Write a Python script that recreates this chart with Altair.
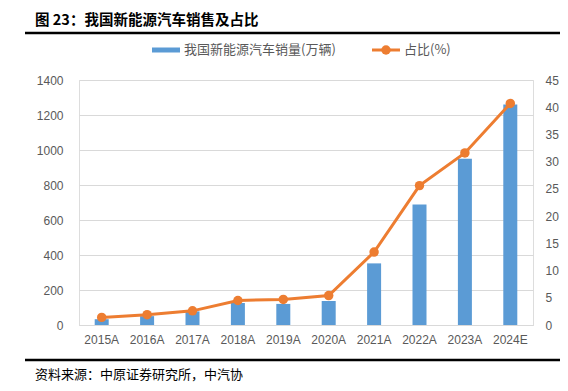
import altair as alt
import pandas as pd

years = ["2015A", "2016A", "2017A", "2018A", "2019A", "2020A", "2021A", "2022A", "2023A", "2024E"]
sales = [33.1, 50.7, 77.7, 125.6, 120.6, 136.7, 352.1, 688.7, 949.5, 1260]
share = [1.4, 1.9, 2.6, 4.5, 4.7, 5.4, 13.4, 25.6, 31.6, 40.7]

title_text = "图 23：我国新能源汽车销售及占比"
legend_bar = "我国新能源汽车销量(万辆)"
legend_line = "占比(%)"
source_text = "资料来源：中原证券研究所，中汽协"

df = pd.DataFrame({"year": years, "sales": sales, "share": share})

CJK = "Noto Sans CJK SC"
BLUE = "#5B9BD5"
ORANGE = "#ED7D31"
GRAY = "#595959"

x_enc = alt.X("year:N", sort=years, title=None,
              scale=alt.Scale(paddingInner=0.0, paddingOuter=0.0),
              axis=alt.Axis(labelAngle=0, labelColor=GRAY, labelFontSize=12, labelFont="Liberation Sans",
                            ticks=False, domainColor="#D9D9D9", labelPadding=9))

bars = alt.Chart(df).mark_bar(color=BLUE, size=14).encode(
    x=x_enc,
    y=alt.Y("sales:Q", title=None, scale=alt.Scale(domain=[0, 1400]),
            axis=alt.Axis(values=[0, 200, 400, 600, 800, 1000, 1200, 1400], format="d", labelColor=GRAY,
                          labelFontSize=12, labelFont="Liberation Sans", ticks=False, domain=False,
                          gridColor="#D9D9D9", labelPadding=16)),
)

line = alt.Chart(df).mark_line(color=ORANGE, strokeWidth=3,
                               point=alt.OverlayMarkDef(color=ORANGE, size=90, filled=True, opacity=1)).encode(
    x=alt.X("year:N", sort=years),
    y=alt.Y("share:Q", title=None, scale=alt.Scale(domain=[0, 45]),
            axis=alt.Axis(orient="right", values=[0, 5, 10, 15, 20, 25, 30, 35, 40, 45], labelColor=GRAY,
                          labelFontSize=12, labelFont="Liberation Sans", ticks=False, domain=False,
                          grid=False, labelPadding=12)),
)

main = alt.layer(bars, line).resolve_scale(y="independent")

# decorations
title = alt.Chart().mark_text(align="left", baseline="middle", font=CJK, fontSize=14.5,
                              fontWeight="bold", color="#000000").encode(
    x=alt.value(-44), y=alt.value(-59), text=alt.value(title_text))
title_rule = alt.Chart().mark_rule(color="#000000", strokeWidth=2.5).encode(
    x=alt.value(-54), x2=alt.value(481), y=alt.value(-47))
src_rule = alt.Chart().mark_rule(color="#000000", strokeWidth=2.5).encode(
    x=alt.value(-54), x2=alt.value(481), y=alt.value(280))
src = alt.Chart().mark_text(align="left", baseline="middle", font=CJK, fontSize=13,
                            color="#000000").encode(
    x=alt.value(-44), y=alt.value(295), text=alt.value(source_text))

leg_bar = alt.Chart().mark_rule(color=BLUE, strokeWidth=5).encode(
    x=alt.value(73), x2=alt.value(101), y=alt.value(-30))
leg_bar_t = alt.Chart().mark_text(align="left", baseline="middle", font=CJK, fontSize=13,
                                  color=GRAY).encode(
    x=alt.value(105), y=alt.value(-30), text=alt.value(legend_bar))
leg_line = alt.Chart().mark_rule(color=ORANGE, strokeWidth=3).encode(
    x=alt.value(293), x2=alt.value(321), y=alt.value(-30))
leg_pt = alt.Chart().mark_point(color=ORANGE, filled=True, size=90, opacity=1).encode(
    x=alt.value(307), y=alt.value(-30))
leg_line_t = alt.Chart().mark_text(align="left", baseline="middle", font=CJK, fontSize=13,
                                   color=GRAY).encode(
    x=alt.value(325), y=alt.value(-30), text=alt.value(legend_line))

deco = alt.layer(title, title_rule, src_rule, src, leg_bar, leg_bar_t, leg_line, leg_pt, leg_line_t)

chart = alt.layer(main, deco).properties(
    width=454, height=245,
    autosize=alt.AutoSizeParams(type="none"),
    padding={"left": 71, "top": 72, "right": 27, "bottom": 58},
).configure_view(stroke=None).configure(background="white")

chart.save("out.html", embed_options={"renderer": "svg", "actions": False})
